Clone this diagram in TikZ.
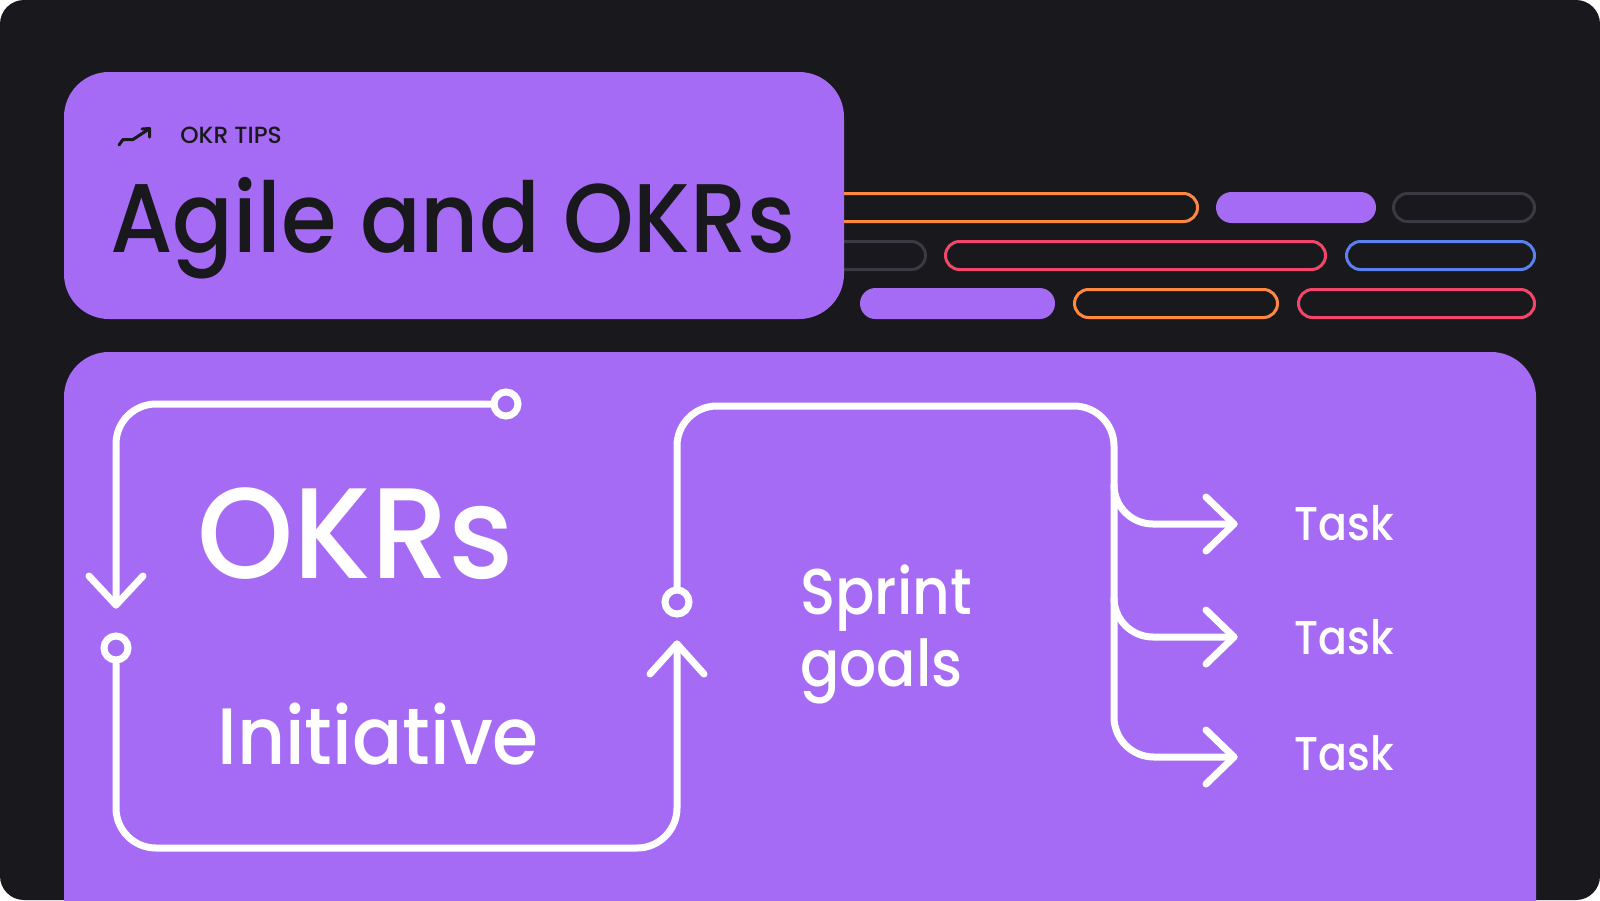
\documentclass[tikz,border=0pt]{standalone}
\usepackage{fontspec}
\setmainfont{Poppins}
\IfFontExistsTF{Poppins Medium}{%
  \newfontfamily\pmed{Poppins Medium}[FakeStretch=0.93]%
  \newfontfamily\pmedt{Poppins Medium}[FakeStretch=0.92]%
  \newfontfamily\pmedn{Poppins Medium}[FakeStretch=0.90]%
  \newfontfamily\pmedw{Poppins Medium}[FakeStretch=0.95]%
  \newfontfamily\pmedf{Poppins Medium}}{%
  \newfontfamily\pmed{Poppins}[FakeBold=1.5,FakeStretch=0.93]%
  \newfontfamily\pmedt{Poppins}[FakeBold=1.5,FakeStretch=0.92]%
  \newfontfamily\pmedn{Poppins}[FakeBold=1.5,FakeStretch=0.90]%
  \newfontfamily\pmedw{Poppins}[FakeBold=1.5,FakeStretch=0.95]%
  \newfontfamily\pmedf{Poppins}[FakeBold=1.5]}
\definecolor{bgdark}{HTML}{18181D}
\definecolor{okrpurple}{HTML}{A66BF5}
\definecolor{okrorange}{HTML}{FF8A3D}
\definecolor{okrred}{HTML}{F2476A}
\definecolor{okrblue}{HTML}{5C7FF0}
\definecolor{okrgray}{HTML}{3A3A42}
\begin{document}
\begin{tikzpicture}[x=0.5pt,y=-0.5pt,
  conn/.style={draw=white, line width=3.5pt, line cap=round, line join=round},
  ring/.style={circle, draw=white, line width=3.5pt, minimum size=12pt, inner sep=0pt},
  pill/.style={line width=1.5pt, rounded corners=7pt},
  fpill/.style={fill=okrpurple, rounded corners=7.75pt},
  lbl/.style={text=white, inner sep=0pt, anchor=base west}
]
\useasboundingbox (0,0) rectangle (1600,900);
\fill[white] (0,0) rectangle (1600,900);
\fill[bgdark, rounded corners=12pt] (0,0) rectangle (1600,900);

% decorative pills
\draw[pill, okrorange] (700,193.5) rectangle (1197.5,221.5);
\fill[fpill] (1216,192) rectangle (1376,223);
\draw[pill, okrgray] (1393.5,193.5) rectangle (1534.5,221.5);
\draw[pill, okrgray] (700,241.5) rectangle (925.5,269.5);
\draw[pill, okrred] (945.5,241.5) rectangle (1325.5,269.5);
\draw[pill, okrblue] (1346.5,241.5) rectangle (1534.5,269.5);
\fill[fpill] (860,288) rectangle (1055,319);
\draw[pill, okrorange] (1074.5,289.5) rectangle (1277.5,317.5);
\draw[pill, okrred] (1298.5,289.5) rectangle (1534.5,317.5);

% title box
\fill[okrpurple, rounded corners=22.5pt] (64,72) rectangle (844,319);
\draw[bgdark, line width=1.5pt, line cap=round, line join=round]
  (119,145) -- (123,139.5) -- (133,139.5) -- (149,129);
\draw[bgdark, line width=1.5pt, line cap=round, line join=round]
  (142,129) -- (149.5,128.5) -- (149.5,137);
\node[anchor=base west, inner sep=0pt, text=bgdark, font=\pmedf\fontsize{11.7}{13}\selectfont] (tips) at (180,143) {OKR TIPS};
\node[anchor=base west, inner sep=0pt, text=bgdark, font=\pmedt\fontsize{48.8}{50}\selectfont] (title) at (110,252) {Agile and OKRs};

% main box
\begin{scope}
\clip (0,0) rectangle (1600,900);
\fill[okrpurple, rounded corners=22.5pt] (64,352) rectangle (1536,960);
\end{scope}

% texts
\node[lbl, font=\pmedw\fontsize{64.5}{70}\selectfont] (okrs) at (197,578) {OKRs};
\node[lbl, font=\pmed\fontsize{40}{44}\selectfont] (init) at (217,764) {Initiative};
\node[lbl, font=\pmedn\fontsize{32.3}{36}\selectfont, align=left] (sprint) at (800,686) {Sprint\\goals};
\node[lbl, font=\pmedn\fontsize{23.7}{26}\selectfont] (task1) at (1294,540) {Task};
\node[lbl, font=\pmedn\fontsize{23.7}{26}\selectfont] (task2) at (1294,654) {Task};
\node[lbl, font=\pmedn\fontsize{23.7}{26}\selectfont] (task3) at (1294,770) {Task};

% rings and arrow tips
\node[ring] (ringA) at (506,404) {};
\node[ring] (ringB) at (116,648) {};
\node[ring] (ringC) at (677,602) {};
\coordinate (tipL) at (116,605);
\coordinate (tipR) at (677,644);
\coordinate (fork) at (1114,406);
\coordinate (tip1) at (1234,524);
\coordinate (tip2) at (1234,637);
\coordinate (tip3) at (1234,757);

% left loop
\draw[conn, rounded corners=20pt] (ringA.west) -| (tipL);
\draw[conn] (tipL) ++(-27,-29) -- (tipL) -- ++(27,-29);
\draw[conn, rounded corners=20pt] (ringB.south) -- (ringB.south |- 0,848) -| (tipR);
\draw[conn] (tipR) ++(-27,30) -- (tipR) -- ++(27,30);

% sprint bracket and tasks
\draw[conn, rounded corners=20pt] (ringC.north) |- (fork) |- (tip3);
\draw[conn, rounded corners=19.5pt] (1114,485) |- (tip1);
\draw[conn, rounded corners=19.5pt] (1114,598) |- (tip2);
\draw[conn] (tip1) ++(-28,-27) -- (tip1) -- ++(-28,27);
\draw[conn] (tip2) ++(-28,-27) -- (tip2) -- ++(-28,27);
\draw[conn] (tip3) ++(-28,-27) -- (tip3) -- ++(-28,27);
\end{tikzpicture}
\end{document}
